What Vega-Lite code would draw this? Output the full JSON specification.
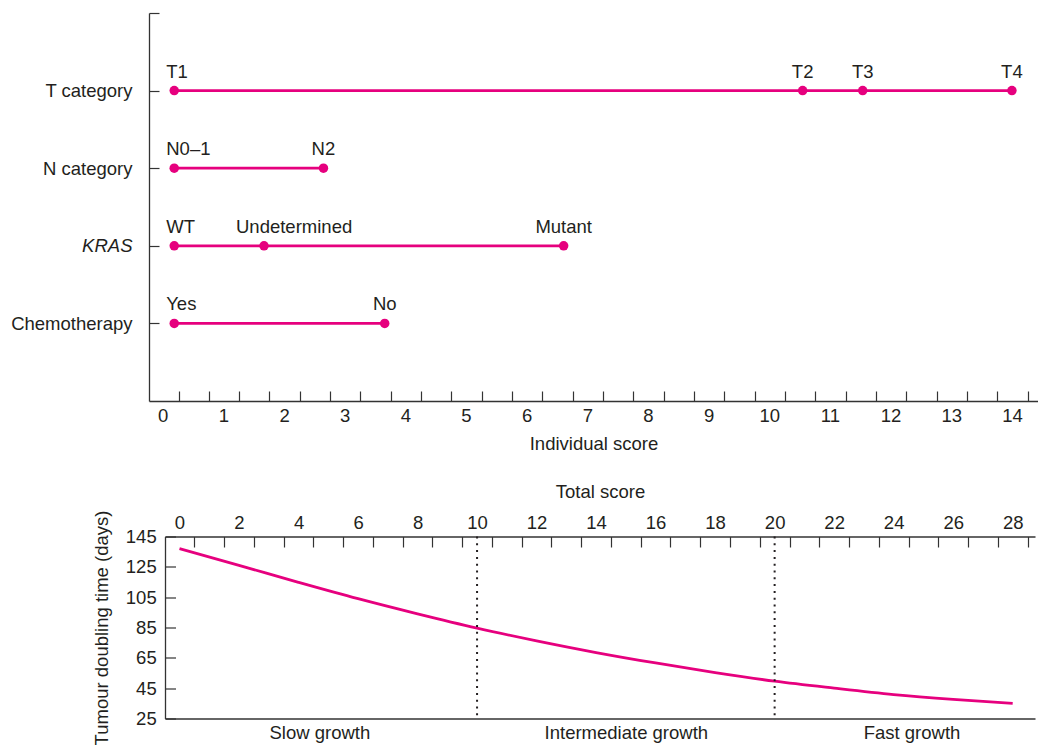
{
  "$schema": "https://vega.github.io/schema/vega-lite/v6.json",
  "padding": {"left": 10, "top": 4, "right": 0, "bottom": 0},
  "config": {
    "view": {"stroke": null},
    "font": "Liberation Sans",
    "axis": {
      "grid": false,
      "domainColor": "#333333",
      "domainWidth": 1.3,
      "tickColor": "#333333",
      "tickWidth": 1.2,
      "labelColor": "#231f20",
      "titleColor": "#231f20",
      "labelFontSize": 18.5,
      "titleFontSize": 18.5,
      "titleFontWeight": "normal",
      "labelFont": "Liberation Sans",
      "titleFont": "Liberation Sans",
      "labelOverlap": false,
      "labelFlush": false,
      "labelBound": false
    }
  },
  "spacing": 28.5,
  "vconcat": [
    {
      "width": 889,
      "height": 388,
      "data": {
        "values": [
          {"variable": "T category", "level": "T1", "score": 0.19},
          {"variable": "T category", "level": "T2", "score": 10.55},
          {"variable": "T category", "level": "T3", "score": 11.54},
          {"variable": "T category", "level": "T4", "score": 14.0},
          {"variable": "N category", "level": "N0–1", "score": 0.19},
          {"variable": "N category", "level": "N2", "score": 2.65},
          {"variable": "KRAS", "level": "WT", "score": 0.19},
          {"variable": "KRAS", "level": "Undetermined", "score": 1.67},
          {"variable": "KRAS", "level": "Mutant", "score": 6.61},
          {"variable": "Chemotherapy", "level": "Yes", "score": 0.19},
          {"variable": "Chemotherapy", "level": "No", "score": 3.66}
        ]
      },
      "encoding": {
        "x": {
          "field": "score",
          "type": "quantitative",
          "scale": {"domain": [-0.226, 14.43], "nice": false, "zero": false},
          "axis": {
            "values": [0, 0.5, 1, 1.5, 2, 2.5, 3, 3.5, 4, 4.5, 5, 5.5, 6, 6.5, 7, 7.5, 8, 8.5, 9, 9.5, 10, 10.5, 11, 11.5, 12, 12.5, 13, 13.5, 14],
            "tickOffset": 15.8,
            "labelOffset": -15.8,
            "labelExpr": "datum.value % 1 === 0 ? format(datum.value, 'd') : ''",
            "tickSize": -10,
            "labelPadding": 15.5,
            "title": "Individual score",
            "titlePadding": 9.5
          }
        },
        "y": {
          "field": "variable",
          "type": "nominal",
          "scale": {"type": "point", "domain": ["", "T category", "N category", "KRAS", "Chemotherapy", " "], "padding": 0},
          "axis": {
            "values": ["", "T category", "N category", "KRAS", "Chemotherapy"],
            "title": null,
            "tickSize": -10,
            "labelPadding": 27,
            "labelFontStyle": {"condition": {"test": "datum.value === 'KRAS'", "value": "italic"}, "value": "normal"}
          }
        }
      },
      "layer": [
        {
          "mark": {"type": "line", "color": "#e6007e", "strokeWidth": 2.8},
          "encoding": {"detail": {"field": "variable"}}
        },
        {
          "mark": {"type": "point", "filled": true, "color": "#e6007e", "size": 90, "opacity": 1}
        },
        {
          "transform": [{"filter": {"field": "level", "oneOf": ["T1", "N0–1", "WT", "Yes"]}}],
          "mark": {"type": "text", "align": "left", "dx": -8, "dy": -13, "baseline": "alphabetic", "fontSize": 18.5, "color": "#231f20"},
          "encoding": {"text": {"field": "level"}}
        },
        {
          "transform": [{"filter": {"field": "level", "equal": "Undetermined"}}],
          "mark": {"type": "text", "align": "left", "dx": -28, "dy": -13, "baseline": "alphabetic", "fontSize": 18.5, "color": "#231f20"},
          "encoding": {"text": {"field": "level"}}
        },
        {
          "transform": [{"filter": {"not": {"field": "level", "oneOf": ["T1", "N0–1", "WT", "Yes", "Undetermined"]}}}],
          "mark": {"type": "text", "align": "center", "dy": -13, "baseline": "alphabetic", "fontSize": 18.5, "color": "#231f20"},
          "encoding": {"text": {"field": "level"}}
        }
      ]
    },
    {
      "width": 886,
      "height": 182,
      "layer": [
        {
          "data": {
            "values": [
              {"total_score": 0, "doubling_time_days": 137.0},
              {"total_score": 2, "doubling_time_days": 126.0},
              {"total_score": 4, "doubling_time_days": 114.8},
              {"total_score": 6, "doubling_time_days": 104.0},
              {"total_score": 8, "doubling_time_days": 94.0},
              {"total_score": 10, "doubling_time_days": 84.6},
              {"total_score": 12, "doubling_time_days": 76.2},
              {"total_score": 14, "doubling_time_days": 68.5},
              {"total_score": 16, "doubling_time_days": 61.6},
              {"total_score": 18, "doubling_time_days": 55.3},
              {"total_score": 20, "doubling_time_days": 49.6},
              {"total_score": 22, "doubling_time_days": 45.0},
              {"total_score": 24, "doubling_time_days": 40.8},
              {"total_score": 26, "doubling_time_days": 37.6},
              {"total_score": 28, "doubling_time_days": 35.0}
            ]
          },
          "mark": {"type": "line", "color": "#e6007e", "strokeWidth": 2.8, "interpolate": "monotone"},
          "encoding": {
            "x": {
              "field": "total_score",
              "type": "quantitative",
              "scale": {"domain": [-0.487, 28.75], "nice": false, "zero": false, "rangeMin": 16},
              "axis": {
                "orient": "top",
                "values": [-1, 0, 1, 2, 3, 4, 5, 6, 7, 8, 9, 10, 11, 12, 13, 14, 15, 16, 17, 18, 19, 20, 21, 22, 23, 24, 25, 26, 27, 28],
                "tickOffset": 14.88,
                "labelOffset": -14.88,
                "labelExpr": "datum.value >= 0 && datum.value % 2 === 0 ? datum.label : ''",
                "tickSize": -10.5,
                "labelPadding": 14.8,
                "title": "Total score",
                "titlePadding": 12
              }
            },
            "y": {
              "field": "doubling_time_days",
              "type": "quantitative",
              "scale": {"domain": [25, 145], "nice": false, "zero": false},
              "axis": {
                "values": [25, 45, 65, 85, 105, 125, 145],
                "title": "Tumour doubling time (days)",
                "offset": -16,
                "tickSize": -10.5,
                "labelPadding": 19.3,
                "titlePadding": 14
              }
            }
          }
        },
        {
          "data": {"values": [{"growth_boundary": 10}, {"growth_boundary": 20}]},
          "mark": {"type": "rule", "strokeDash": [2, 4.8], "strokeWidth": 2, "color": "#231f20"},
          "encoding": {
            "x": {
              "field": "growth_boundary",
              "type": "quantitative",
              "scale": {"domain": [-0.487, 28.75], "nice": false, "zero": false, "rangeMin": 16},
              "axis": {
                "orient": "bottom",
                "values": [4.7, 15, 24.6],
                "labelExpr": "datum.value < 10 ? 'Slow growth' : datum.value < 20 ? 'Intermediate growth' : 'Fast growth'",
                "ticks": false,
                "title": null,
                "labelPadding": 5
              }
            }
          }
        }
      ],
      "resolve": {"axis": {"x": "independent"}}
    }
  ]
}
